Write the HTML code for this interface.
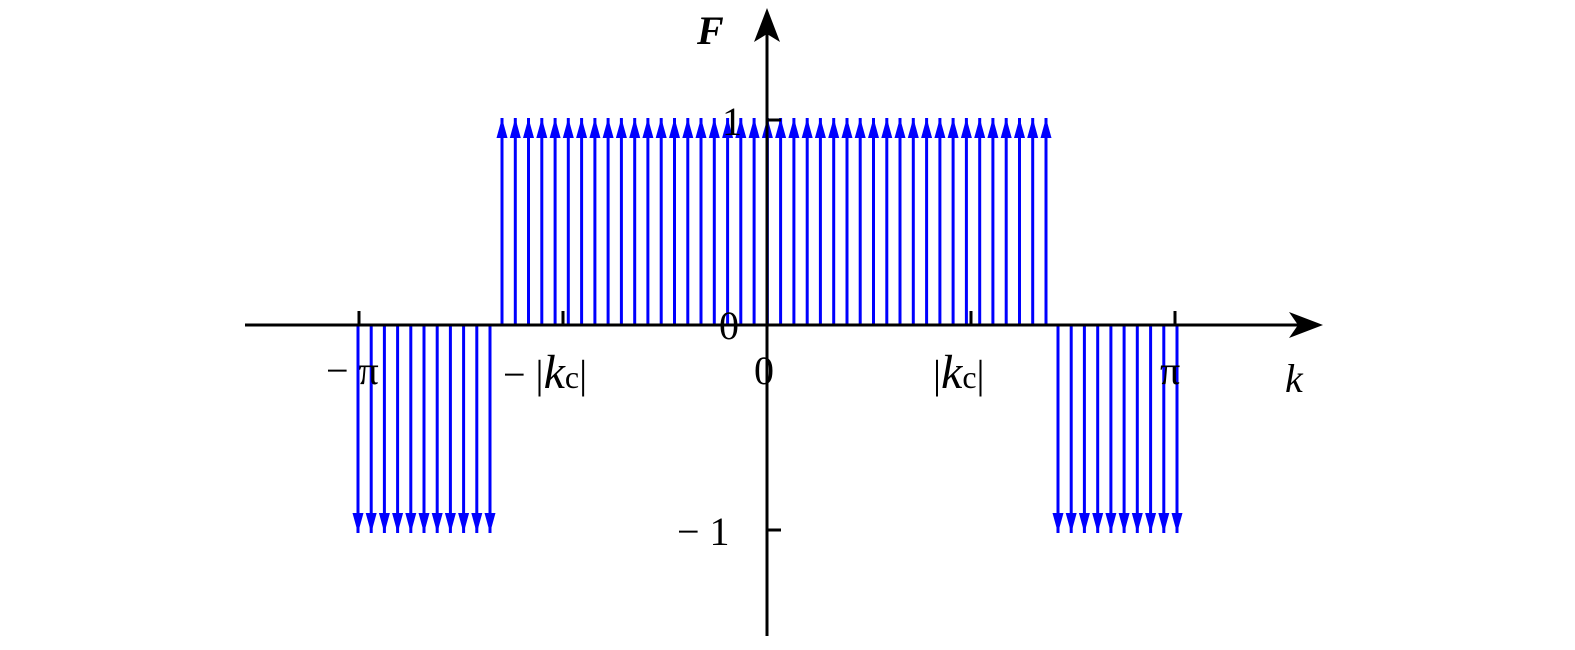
<!DOCTYPE html>
<html><head><meta charset="utf-8"><style>body{margin:0;background:#fff}svg{display:block}</style></head>
<body>
<svg width="1575" height="650" viewBox="0 0 1575 650" xmlns="http://www.w3.org/2000/svg">
<defs>
<marker id="h" viewBox="0 -6 20 12" refX="20" refY="0" markerWidth="20" markerHeight="12" markerUnits="userSpaceOnUse" orient="auto">
<path d="M0,-5.5 L20,0 L0,5.5 Z" fill="#00f"/>
</marker>
</defs>
<g stroke="#00f" stroke-width="3" marker-end="url(#h)">
<line x1="502" y1="325" x2="502" y2="118"/><line x1="515.3" y1="325" x2="515.3" y2="118"/><line x1="528.5" y1="325" x2="528.5" y2="118"/><line x1="541.8" y1="325" x2="541.8" y2="118"/><line x1="555.1" y1="325" x2="555.1" y2="118"/><line x1="568.3" y1="325" x2="568.3" y2="118"/><line x1="581.6" y1="325" x2="581.6" y2="118"/><line x1="594.9" y1="325" x2="594.9" y2="118"/><line x1="608.1" y1="325" x2="608.1" y2="118"/><line x1="621.4" y1="325" x2="621.4" y2="118"/><line x1="634.7" y1="325" x2="634.7" y2="118"/><line x1="647.9" y1="325" x2="647.9" y2="118"/><line x1="661.2" y1="325" x2="661.2" y2="118"/><line x1="674.5" y1="325" x2="674.5" y2="118"/><line x1="687.8" y1="325" x2="687.8" y2="118"/><line x1="701" y1="325" x2="701" y2="118"/><line x1="714.3" y1="325" x2="714.3" y2="118"/><line x1="727.6" y1="325" x2="727.6" y2="118"/><line x1="740.8" y1="325" x2="740.8" y2="118"/><line x1="754.1" y1="325" x2="754.1" y2="118"/><line x1="767.4" y1="325" x2="767.4" y2="118"/><line x1="780.6" y1="325" x2="780.6" y2="118"/><line x1="793.9" y1="325" x2="793.9" y2="118"/><line x1="807.2" y1="325" x2="807.2" y2="118"/><line x1="820.4" y1="325" x2="820.4" y2="118"/><line x1="833.7" y1="325" x2="833.7" y2="118"/><line x1="847" y1="325" x2="847" y2="118"/><line x1="860.2" y1="325" x2="860.2" y2="118"/><line x1="873.5" y1="325" x2="873.5" y2="118"/><line x1="886.8" y1="325" x2="886.8" y2="118"/><line x1="900" y1="325" x2="900" y2="118"/><line x1="913.3" y1="325" x2="913.3" y2="118"/><line x1="926.6" y1="325" x2="926.6" y2="118"/><line x1="939.9" y1="325" x2="939.9" y2="118"/><line x1="953.1" y1="325" x2="953.1" y2="118"/><line x1="966.4" y1="325" x2="966.4" y2="118"/><line x1="979.7" y1="325" x2="979.7" y2="118"/><line x1="992.9" y1="325" x2="992.9" y2="118"/><line x1="1006.2" y1="325" x2="1006.2" y2="118"/><line x1="1019.5" y1="325" x2="1019.5" y2="118"/><line x1="1032.7" y1="325" x2="1032.7" y2="118"/><line x1="1046" y1="325" x2="1046" y2="118"/>
<line x1="358" y1="325" x2="358" y2="533"/><line x1="371.2" y1="325" x2="371.2" y2="533"/><line x1="384.4" y1="325" x2="384.4" y2="533"/><line x1="397.6" y1="325" x2="397.6" y2="533"/><line x1="410.8" y1="325" x2="410.8" y2="533"/><line x1="424" y1="325" x2="424" y2="533"/><line x1="437.2" y1="325" x2="437.2" y2="533"/><line x1="450.4" y1="325" x2="450.4" y2="533"/><line x1="463.6" y1="325" x2="463.6" y2="533"/><line x1="476.8" y1="325" x2="476.8" y2="533"/><line x1="490" y1="325" x2="490" y2="533"/>
<line x1="1058" y1="325" x2="1058" y2="533"/><line x1="1071.2" y1="325" x2="1071.2" y2="533"/><line x1="1084.4" y1="325" x2="1084.4" y2="533"/><line x1="1097.7" y1="325" x2="1097.7" y2="533"/><line x1="1110.9" y1="325" x2="1110.9" y2="533"/><line x1="1124.1" y1="325" x2="1124.1" y2="533"/><line x1="1137.3" y1="325" x2="1137.3" y2="533"/><line x1="1150.6" y1="325" x2="1150.6" y2="533"/><line x1="1163.8" y1="325" x2="1163.8" y2="533"/><line x1="1177" y1="325" x2="1177" y2="533"/>
</g>
<g stroke="#000" stroke-width="3" fill="none">
<line x1="245" y1="325" x2="1305" y2="325"/>
<line x1="767" y1="636" x2="767" y2="25"/>
<line x1="359" y1="325" x2="359" y2="311"/>
<line x1="563" y1="325" x2="563" y2="311"/>
<line x1="971" y1="325" x2="971" y2="311"/>
<line x1="1175" y1="325" x2="1175" y2="311"/>
<line x1="767" y1="120" x2="781" y2="120"/>
<line x1="767" y1="530" x2="781" y2="530"/>
</g>
<path d="M1323 325 L1289 312 L1298 325 L1289 338 Z" fill="#000"/>
<path d="M767 8 L754 42 L767 34 L780 42 Z" fill="#000"/>
<g font-family="Liberation Serif, serif" font-size="40" fill="#000">
<text x="697" y="44" font-weight="bold" font-style="italic">F</text>
<text x="722" y="135">1</text>
<text x="719" y="339">0</text>
<text x="754" y="384">0</text>
<text x="677" y="545">− 1</text>
<text x="1285" y="392" font-style="italic">k</text>
<text x="326" y="384">− π</text>
<text x="1160" y="384">π</text>
<text x="503" y="388">− |<tspan font-style="italic" font-size="48">k</tspan><tspan font-size="32">c</tspan>|</text>
<text x="933" y="388">|<tspan font-style="italic" font-size="48">k</tspan><tspan font-size="32">c</tspan>|</text>
</g>
</svg>
</body></html>
